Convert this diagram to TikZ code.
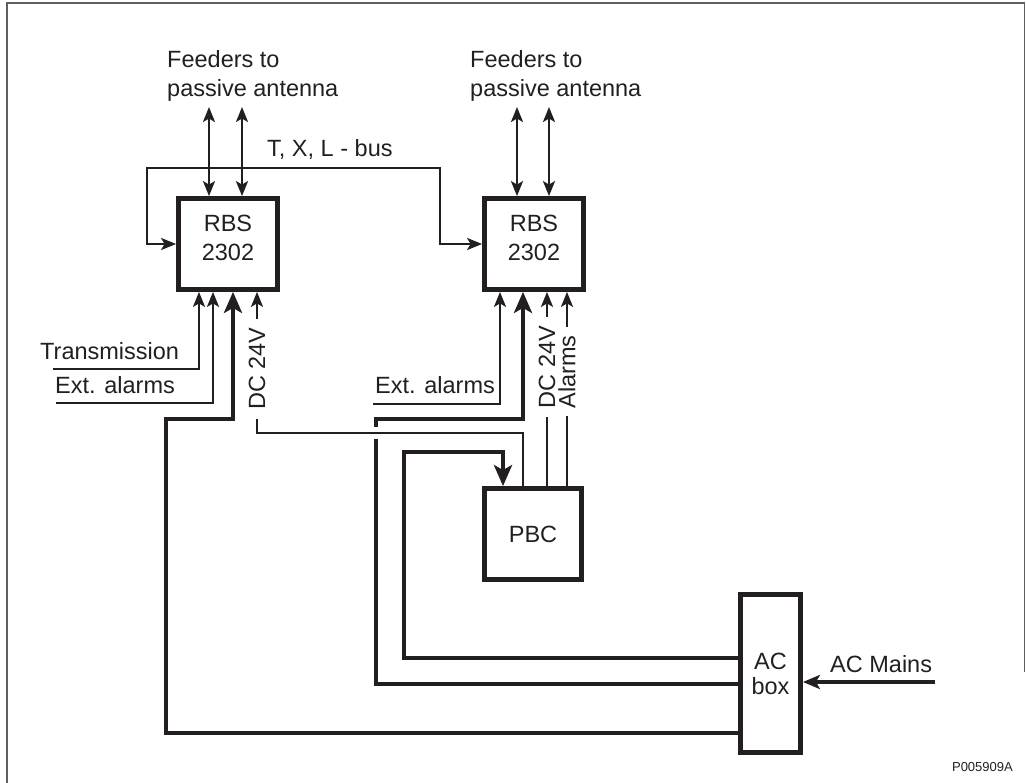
\documentclass[tikz,border=0pt]{standalone}
\usepackage{fontspec}
\setmainfont{Liberation Sans}
\usetikzlibrary{arrows.meta}
\definecolor{ink}{RGB}{35,31,32}
\definecolor{framegray}{RGB}{95,95,95}
\tikzset{
  lbl/.style={font=\fontsize{23.5}{29}\selectfont, text=ink, inner sep=0pt},
  box/.style={draw=ink, line width=4.8pt, inner sep=0pt, font=\fontsize{23.5}{29}\selectfont, text=ink},
  sig/.style={draw=ink, line width=2.4pt},
  pwr/.style={draw=ink, line width=4.6pt},
  sarrow/.style={sig, -{Stealth[length=15pt,width=12pt,inset=3.5pt]}},
  sboth/.style={sig, {Stealth[length=15pt,width=12pt,inset=3.5pt]}-{Stealth[length=15pt,width=12pt,inset=3.5pt]}},
  parrow/.style={pwr, -{Stealth[length=21pt,width=18pt,inset=5pt]}},
  vlbl/.style={lbl, rotate=90, fill=white, inner xsep=9pt, inner ysep=0pt},
}
\begin{document}
\begin{tikzpicture}[x=1pt,y=-1pt]
\useasboundingbox (0,0) rectangle (1026,783);
% frame
\draw[framegray, line width=1.5pt] (7,783) -- (7,3) -- (1024.5,3) -- (1024.5,672);

% boxes
\node[box, minimum width=99pt, minimum height=91pt] (rbs1) at (228,244) {};
\node[lbl, align=center] (rbs1t) at (228,238) {RBS\\2302};
\node[box, minimum width=99pt, minimum height=91pt] (rbs2) at (534,244) {};
\node[lbl, align=center] (rbs2t) at (534,238) {RBS\\2302};
\node[box, minimum width=97pt, minimum height=91pt] (pbc) at (533,534) {PBC};
\node[box, minimum width=60pt, minimum height=158pt, align=center, font=\fontsize{23.5}{25}\selectfont] (acb) at (770.5,673.5) {AC\\box};

% feeders
\node[lbl, align=left, anchor=north west] (feed1) at (167,50.5) {Feeders to\\passive antenna};
\node[lbl, align=left, anchor=north west] (feed2) at (470,50.5) {Feeders to\\passive antenna};
\coordinate (fa1) at (209,107);
\coordinate (fa2) at (242,107);
\coordinate (fb1) at (517,107);
\coordinate (fb2) at (549,107);
\draw[sboth] (fa1) -- (rbs1.north -| fa1);
\draw[sboth] (fa2) -- (rbs1.north -| fa2);
\draw[sboth] (fb1) -- (rbs2.north -| fb1);
\draw[sboth] (fb2) -- (rbs2.north -| fb2);

% bus
\draw[sboth] (rbs1.west) -- (147,244) |- (440,168) |- (rbs2.west);
\node[lbl, anchor=base west] (bus) at (267,157) {T, X, L - bus};

% left inputs
\coordinate (trs) at (53,369);
\coordinate (ea1) at (56,403);
\draw[sarrow] (trs) -| (rbs1.south -| 199,0);
\node[lbl, anchor=base west] (trsl) at (40,360) {Transmission};
\draw[sarrow] (ea1) -| (rbs1.south -| 213,0);
\node[lbl, anchor=base west] (ea1l) at (55,394) {Ext. alarms};

% right ext alarms
\coordinate (ea2) at (373,404);
\draw[sarrow] (ea2) -| (rbs2.south -| 500,0);
\node[lbl, anchor=base west] (ea2l) at (375,394) {Ext. alarms};

% power lines
\draw[parrow] (acb.west |- 0,733) -| (166,419) -| (rbs1.south -| 233,0);
\draw[parrow] (acb.west |- 0,684) -| (376,419) -| (rbs2.south -| 523,0);
\draw[parrow] (acb.west |- 0,658) -| (404,452) -| (pbc.north -| 503,0);

% crossing gap
\fill[white] (371,427) rectangle (381,439);

% DC / alarms from PBC
\draw[sarrow] (pbc.north -| 523,0) |- (257,433) -- node[vlbl, pos=0.455] (dc1) {DC 24V} (rbs1.south -| 257,0);
\draw[sarrow] (pbc.north -| 547,0) -- node[vlbl, pos=0.613] (dc2) {DC 24V} (rbs2.south -| 547,0);
\draw[sarrow] (pbc.north -| 567,0) -- node[vlbl, pos=0.588, inner xsep=8pt] (alm) {Alarms} (rbs2.south -| 567,0);

% AC mains
\coordinate (mains) at (935,682);
\draw[pwr, -{Stealth[length=17pt,width=14pt,inset=4pt]}] (mains) -- (acb.east |- mains);
\node[lbl, anchor=base west] (mainsl) at (830,672) {AC Mains};

% figure id
\node[lbl, font=\fontsize{13}{15}\selectfont, anchor=base east] (fid) at (1013,771) {P005909A};
\end{tikzpicture}
\end{document}
